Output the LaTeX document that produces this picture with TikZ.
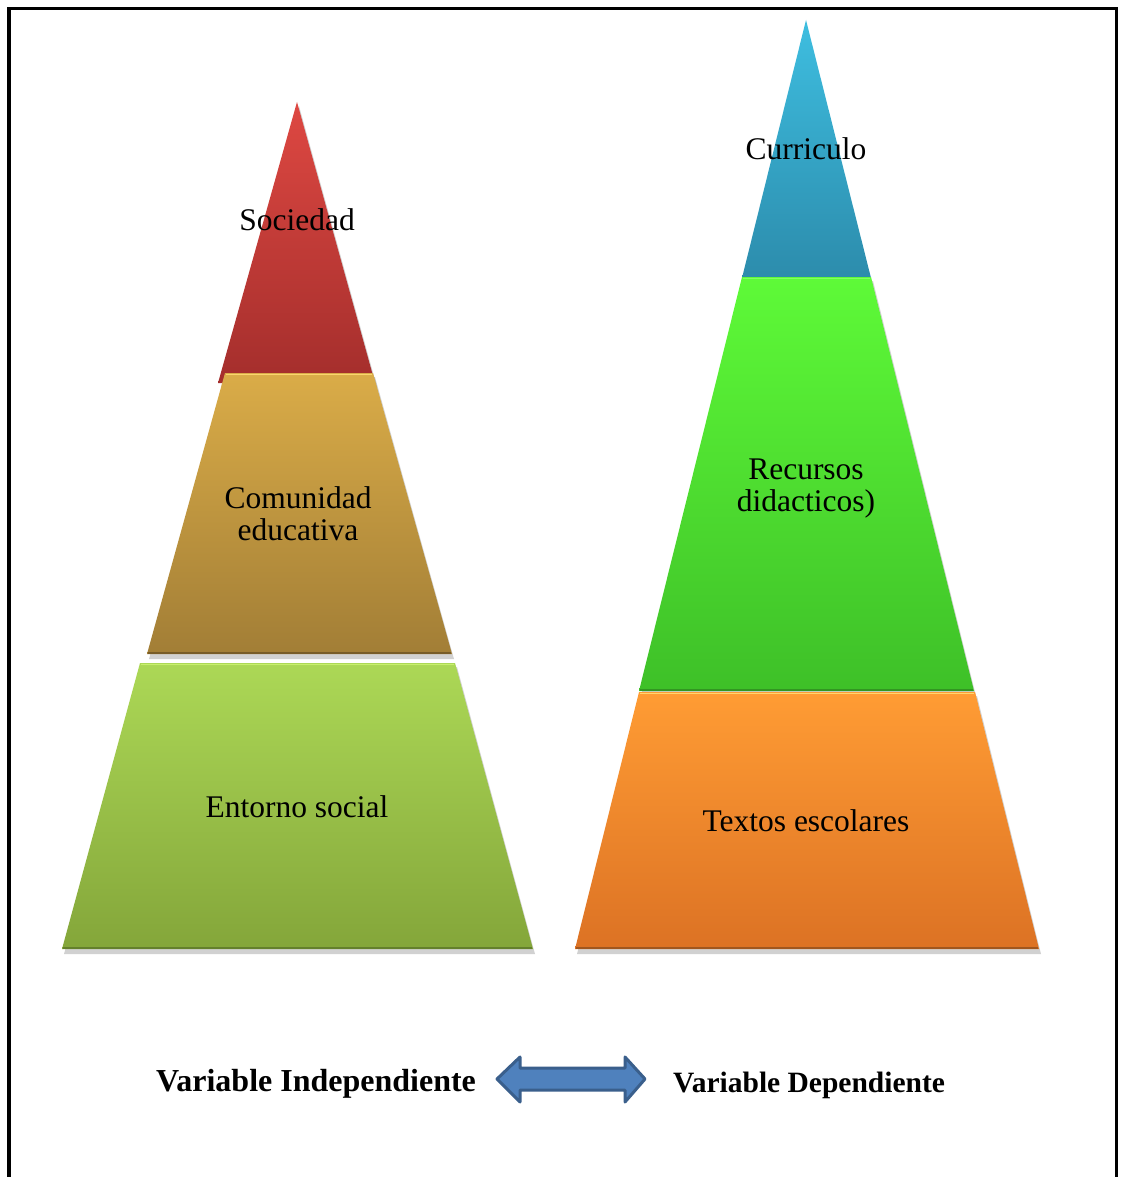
\documentclass[tikz,border=0pt]{standalone}
\usepackage{fontspec}
\setmainfont{Liberation Serif}
\definecolor{arrowfill}{HTML}{4F81BD}
\definecolor{arrowdraw}{HTML}{3A5F8C}
\definecolor{redT}{RGB}{222,72,66}
\definecolor{redB}{RGB}{164,46,44}
\definecolor{goldT}{RGB}{218,172,72}
\definecolor{goldB}{RGB}{162,126,54}
\definecolor{goldHi}{RGB}{250,214,110}
\definecolor{goldLo}{RGB}{120,92,40}
\definecolor{lgT}{RGB}{172,216,86}
\definecolor{lgB}{RGB}{132,166,58}
\definecolor{lgHi}{RGB}{200,240,110}
\definecolor{lgLo}{RGB}{100,128,44}
\definecolor{blT}{RGB}{62,190,224}
\definecolor{blB}{RGB}{44,140,172}
\definecolor{bgT}{RGB}{94,250,56}
\definecolor{bgB}{RGB}{62,192,40}
\definecolor{bgHi}{RGB}{130,255,100}
\definecolor{bgLo}{RGB}{50,150,34}
\definecolor{orT}{RGB}{255,156,52}
\definecolor{orB}{RGB}{220,114,36}
\definecolor{orHi}{RGB}{255,214,110}
\definecolor{orLo}{RGB}{160,86,30}
\begin{document}
\begin{tikzpicture}[x=1pt,y=-1pt,
  shadowbox/.style={fill=black, opacity=0.18},
  edgeline/.style={line width=1.5pt},
  lbl/.style={align=center, font=\fontsize{31.5}{32}\selectfont, inner sep=0pt},
  varlbl/.style={font=\bfseries\fontsize{32}{33}\selectfont, inner sep=0pt},
  dblarrow/.style={fill=arrowfill, draw=arrowdraw, line width=3pt, line join=round}
]
\useasboundingbox (0,0) rectangle (1120,1177);
\fill[white] (0,0) rectangle (1120,1177);
% frame
\draw[line width=3.5pt] (8.75,1180) -- (8.75,8.75) -- (1116.25,8.75) -- (1116.25,1180);

% ---------- left pyramid ----------
\fill[shadowbox] (299,106) -- (377,387) -- (221,387) -- cycle;
\shade[top color=redT, bottom color=redB]
  (297,102) -- (375,383) -- (218,383) -- cycle;
\fill[shadowbox] (227,377) -- (375,377) -- (454,659) -- (149,659) -- cycle;
\shade[top color=goldT, bottom color=goldB]
  (225,373) -- (373,373) -- (452,654) -- (147,654) -- cycle;
\draw[edgeline, goldHi] (226,374.5) -- (372,374.5);
\draw[edgeline, goldLo] (148,653) -- (451,653);
\fill[shadowbox] (142,667) -- (457,667) -- (535,954) -- (64,954) -- cycle;
\shade[top color=lgT, bottom color=lgB]
  (140,663) -- (455,663) -- (533,949) -- (62,949) -- cycle;
\draw[edgeline, lgHi] (141,664.5) -- (454,664.5);
\draw[edgeline, lgLo] (63,948) -- (532,948);

% ---------- right pyramid ----------
\shade[top color=blT, bottom color=blB]
  (806,20) -- (871,278) -- (742,278) -- cycle;
\fill[shadowbox] (744,281) -- (873,281) -- (976,696) -- (641,696) -- cycle;
\shade[top color=bgT, bottom color=bgB]
  (742,277) -- (871,277) -- (974,691) -- (639,691) -- cycle;
\draw[edgeline, bgHi] (743,278.5) -- (870,278.5);
\draw[edgeline, bgLo] (640,690) -- (973,690);
\fill[shadowbox] (641,696) -- (977,696) -- (1041,954) -- (577,954) -- cycle;
\shade[top color=orT, bottom color=orB]
  (639,692) -- (975,692) -- (1039,949) -- (575,949) -- cycle;
\draw[edgeline, orHi] (640,693.5) -- (974,693.5);
\draw[edgeline, orLo] (576,948) -- (1038,948);

% ---------- labels ----------
\node[lbl] (soc) at (297,220) {Sociedad};
\node[lbl] (com) at (298,514) {Comunidad\\educativa};
\node[lbl] (ent) at (297,807) {Entorno social};
\node[lbl] (cur) at (806,149) {Curriculo};
\node[lbl] (rec) at (806,489) {Recursos\\didacticos)};
\node[lbl] (tex) at (806,821) {Textos escolares};

% ---------- bottom ----------
\node[varlbl, anchor=west] (vi) at (156,1084) {Variable Independiente};
\node[varlbl, anchor=west, font=\bfseries\fontsize{29.5}{30}\selectfont] (vd) at (673,1085) {Variable Dependiente};
\coordinate (al) at (497,1079);
\coordinate (ar) at (645,1079);
\draw[dblarrow] (al) -- ++(23,-22) -- ++(0,11) -- ++(105,0) -- ++(0,-11) -- (ar)
  -- ++(-20,23) -- ++(0,-12) -- ++(-105,0) -- ++(0,12) -- cycle;
\end{tikzpicture}
\end{document}
